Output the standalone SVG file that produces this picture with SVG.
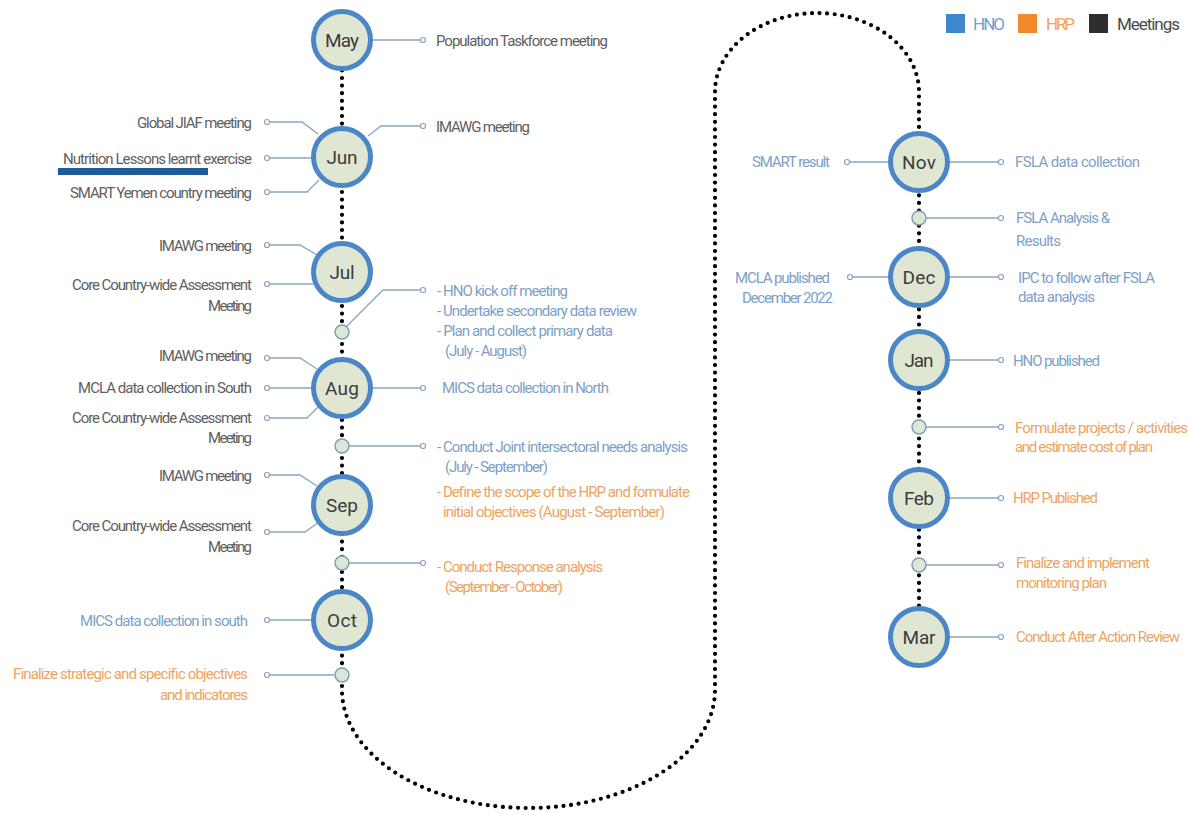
<svg xmlns="http://www.w3.org/2000/svg" width="1189" height="815" viewBox="0 0 1189 815">
<style>
text{font-family:Roboto,"Liberation Sans",sans-serif;font-size:15px}
.mt{fill:#606060}
.hno{fill:#7d9fc8}
.hrp{fill:#eca463}
.e{text-anchor:end}
.month{font-size:19px;fill:#3c3c3c;text-anchor:middle}
.mc{fill:#dfe7d3;stroke:#4b87c6;stroke-width:5}
.sc{fill:#dce7d8;stroke:#7f9fb5;stroke-width:1.5}
.cn{fill:none;stroke:#8aa4bf;stroke-width:1.3}
.oc{fill:#fff;stroke:#8aa4bf;stroke-width:1.2}
.dots{fill:none;stroke:#000;stroke-width:4.2;stroke-linecap:round;stroke-dasharray:0 7.6}
.leg{font-size:17px}
</style>
<g id="timeline">
<path class="dots" d="M342,40 L342,690 A186.5,118 0 0 0 715,690 L715,92 A102,79 0 0 1 919,92 L919,637"/>
</g>
<g id="connectors">
<path class="cn" d="M372,40 H421"/><circle class="oc" cx="423" cy="40" r="2.5"/>
<path class="cn" d="M368,136 L381,126 H421"/><circle class="oc" cx="423" cy="126" r="2.5"/>
<path class="cn" d="M270,122 H302 L318,134"/><circle class="oc" cx="267" cy="122" r="2.5"/>
<path class="cn" d="M270,158 H313"/><circle class="oc" cx="267" cy="158" r="2.5"/>
<path class="cn" d="M270,192 H307 L319,180"/><circle class="oc" cx="267" cy="192" r="2.5"/>
<path class="cn" d="M270,245 H300 L317,255"/><circle class="oc" cx="267" cy="245" r="2.5"/>
<path class="cn" d="M270,284 H313"/><circle class="oc" cx="267" cy="284" r="2.5"/>
<path class="cn" d="M346,327 L383,290 H421"/><circle class="oc" cx="423" cy="290" r="2.5"/>
<path class="cn" d="M270,358 H300 L317,369"/><circle class="oc" cx="267" cy="358" r="2.5"/>
<path class="cn" d="M270,388 H313"/><circle class="oc" cx="267" cy="388" r="2.5"/>
<path class="cn" d="M270,418 H307 L319,406"/><circle class="oc" cx="267" cy="418" r="2.5"/>
<path class="cn" d="M372,388 H421"/><circle class="oc" cx="423" cy="388" r="2.5"/>
<path class="cn" d="M349,446 H421"/><circle class="oc" cx="423" cy="446" r="2.5"/>
<path class="cn" d="M270,475 H300 L317,486"/><circle class="oc" cx="267" cy="475" r="2.5"/>
<path class="cn" d="M270,532 H305 L319,522"/><circle class="oc" cx="267" cy="532" r="2.5"/>
<path class="cn" d="M349,563 H421"/><circle class="oc" cx="423" cy="563" r="2.5"/>
<path class="cn" d="M270,620 H313"/><circle class="oc" cx="267" cy="620" r="2.5"/>
<path class="cn" d="M270,675 H334"/><circle class="oc" cx="267" cy="675" r="2.5"/>
<path class="cn" d="M850,162 H889"/><circle class="oc" cx="847" cy="162" r="2.5"/>
<path class="cn" d="M949,162 H999"/><circle class="oc" cx="1001" cy="162" r="2.5"/>
<path class="cn" d="M926,218 H999"/><circle class="oc" cx="1001" cy="218" r="2.5"/>
<path class="cn" d="M853,277 H889"/><circle class="oc" cx="850" cy="277" r="2.5"/>
<path class="cn" d="M949,277 H999"/><circle class="oc" cx="1001" cy="277" r="2.5"/>
<path class="cn" d="M949,360 H999"/><circle class="oc" cx="1001" cy="360" r="2.5"/>
<path class="cn" d="M926,427 H999"/><circle class="oc" cx="1001" cy="427" r="2.5"/>
<path class="cn" d="M949,498 H999"/><circle class="oc" cx="1001" cy="498" r="2.5"/>
<path class="cn" d="M926,565 H999"/><circle class="oc" cx="1001" cy="565" r="2.5"/>
<path class="cn" d="M949,637 H999"/><circle class="oc" cx="1001" cy="637" r="2.5"/>
</g>
<g id="months">
<g id="may"><circle class="mc" cx="342" cy="40" r="28.5"/><text class="month" x="342" y="47" textLength="34">May</text></g>
<g id="jun"><circle class="mc" cx="342" cy="157" r="28.5"/><text class="month" x="342" y="164" textLength="31">Jun</text></g>
<g id="jul"><circle class="mc" cx="342" cy="272" r="28.5"/><text class="month" x="342" y="279" textLength="25">Jul</text></g>
<g id="aug"><circle class="mc" cx="342" cy="388" r="28.5"/><text class="month" x="342" y="395" textLength="34">Aug</text></g>
<g id="sep"><circle class="mc" cx="342" cy="505" r="28.5"/><text class="month" x="342" y="512" textLength="32">Sep</text></g>
<g id="oct"><circle class="mc" cx="342" cy="620" r="28.5"/><text class="month" x="342" y="627" textLength="30">Oct</text></g>
<g id="nov"><circle class="mc" cx="919" cy="162" r="28.5"/><text class="month" x="919" y="169" textLength="34">Nov</text></g>
<g id="dec"><circle class="mc" cx="919" cy="277" r="28.5"/><text class="month" x="919" y="284" textLength="33">Dec</text></g>
<g id="jan"><circle class="mc" cx="919" cy="360" r="28.5"/><text class="month" x="919" y="367" textLength="29">Jan</text></g>
<g id="feb"><circle class="mc" cx="919" cy="498" r="28.5"/><text class="month" x="919" y="505" textLength="30">Feb</text></g>
<g id="mar"><circle class="mc" cx="919" cy="637" r="28.5"/><text class="month" x="919" y="644" textLength="33">Mar</text></g>
</g>
<g id="milestones">
<circle id="m-jul" class="sc" cx="342" cy="332" r="7"/>
<circle id="m-aug" class="sc" cx="342" cy="446" r="7"/>
<circle id="m-sep" class="sc" cx="342" cy="563" r="7"/>
<circle id="m-oct" class="sc" cx="342" cy="675" r="7"/>
<circle id="m-nov" class="sc" cx="919" cy="218" r="7"/>
<circle id="m-jan" class="sc" cx="919" cy="427" r="7"/>
<circle id="m-feb" class="sc" cx="919" cy="565" r="7"/>
</g>
<g id="labels-left">
<text class="mt" x="436" y="46" textLength="172">Population Taskforce meeting</text>
<text class="mt" x="436" y="132" textLength="94">IMAWG meeting</text>
<text class="mt e" x="252" y="128" textLength="115">Global JIAF meeting</text>
<text class="mt e" x="252" y="164" textLength="189">Nutrition Lessons learnt exercise</text>
<rect x="58" y="168" width="150" height="7" fill="#1f5b97"/>
<text class="mt e" x="252" y="198" textLength="182">SMART Yemen country meeting</text>
<text class="mt e" x="252" y="251" textLength="93">IMAWG meeting</text>
<text class="mt e" x="252" y="290" textLength="180">Core Country-wide Assessment</text>
<text class="mt e" x="252" y="311" textLength="44">Meeting</text>
<text class="hno" x="437" y="296" textLength="131">- HNO kick off meeting</text>
<text class="hno" x="437" y="316" textLength="200">- Undertake secondary data review</text>
<text class="hno" x="437" y="336" textLength="176">- Plan and collect primary data</text>
<text class="hno" x="445" y="356" textLength="82">(July - August)</text>
<text class="mt e" x="252" y="361" textLength="93">IMAWG meeting</text>
<text class="mt e" x="252" y="393" textLength="174">MCLA data collection in South</text>
<text class="mt e" x="252" y="423" textLength="180">Core Country-wide Assessment</text>
<text class="mt e" x="252" y="443" textLength="44">Meeting</text>
<text class="hno" x="442" y="393" textLength="167">MICS data collection in North</text>
<text class="hno" x="437" y="452" textLength="251">- Conduct Joint intersectoral needs analysis</text>
<text class="hno" x="445" y="472" textLength="103">(July - September)</text>
<text class="hrp" x="437" y="497" textLength="253">- Define the scope of the HRP and formulate</text>
<text class="hrp" x="443" y="517" textLength="222">initial objectives (August - September)</text>
<text class="mt e" x="252" y="481" textLength="93">IMAWG meeting</text>
<text class="mt e" x="252" y="531" textLength="180">Core Country-wide Assessment</text>
<text class="mt e" x="252" y="552" textLength="44">Meeting</text>
<text class="hrp" x="437" y="572" textLength="166">- Conduct Response analysis</text>
<text class="hrp" x="445" y="592" textLength="118">(September - October)</text>
<text class="hno e" x="248" y="626" textLength="168">MICS data collection in south</text>
<text class="hrp e" x="248" y="679" textLength="235">Finalize strategic and specific objectives</text>
<text class="hrp e" x="248" y="700" textLength="88">and indicatores</text>
</g>
<g id="labels-right">
<text class="hno" x="752" y="167" textLength="78">SMART result</text>
<text class="hno" x="1015" y="167" textLength="125">FSLA  data collection</text>
<text class="hno" x="1016" y="223" textLength="94">FSLA Analysis &amp;</text>
<text class="hno" x="1016" y="246" textLength="45">Results</text>
<text class="hno" x="735" y="283" textLength="95">MCLA published</text>
<text class="hno" x="742" y="303" textLength="91">December 2022</text>
<text class="hno" x="1018" y="283" textLength="137">IPC to follow after FSLA</text>
<text class="hno" x="1018" y="302" textLength="77">data analysis</text>
<text class="hno" x="1013" y="366" textLength="87">HNO published</text>
<text class="hrp" x="1015" y="433" textLength="173">Formulate projects / activities</text>
<text class="hrp" x="1015" y="452" textLength="138">and estimate cost of plan</text>
<text class="hrp" x="1013" y="503" textLength="85">HRP Published</text>
<text class="hrp" x="1016" y="568" textLength="134">Finalize and implement</text>
<text class="hrp" x="1016" y="588" textLength="91">monitoring plan</text>
<text class="hrp" x="1016" y="642" textLength="164">Conduct After Action Review</text>
</g>
<g id="legend">
<rect x="946" y="14" width="19" height="19" fill="#3f88d0"/>
<text class="leg" x="973" y="30" fill="#6f9fd3" textLength="32">HNO</text>
<rect x="1018" y="14" width="19" height="19" fill="#f08a2a"/>
<text class="leg" x="1046" y="30" fill="#f3a255" textLength="29">HRP</text>
<rect x="1089" y="14" width="19" height="19" fill="#2e2e2e"/>
<text class="leg" x="1117" y="30" fill="#4a4a4a" textLength="63">Meetings</text>
</g>
</svg>
